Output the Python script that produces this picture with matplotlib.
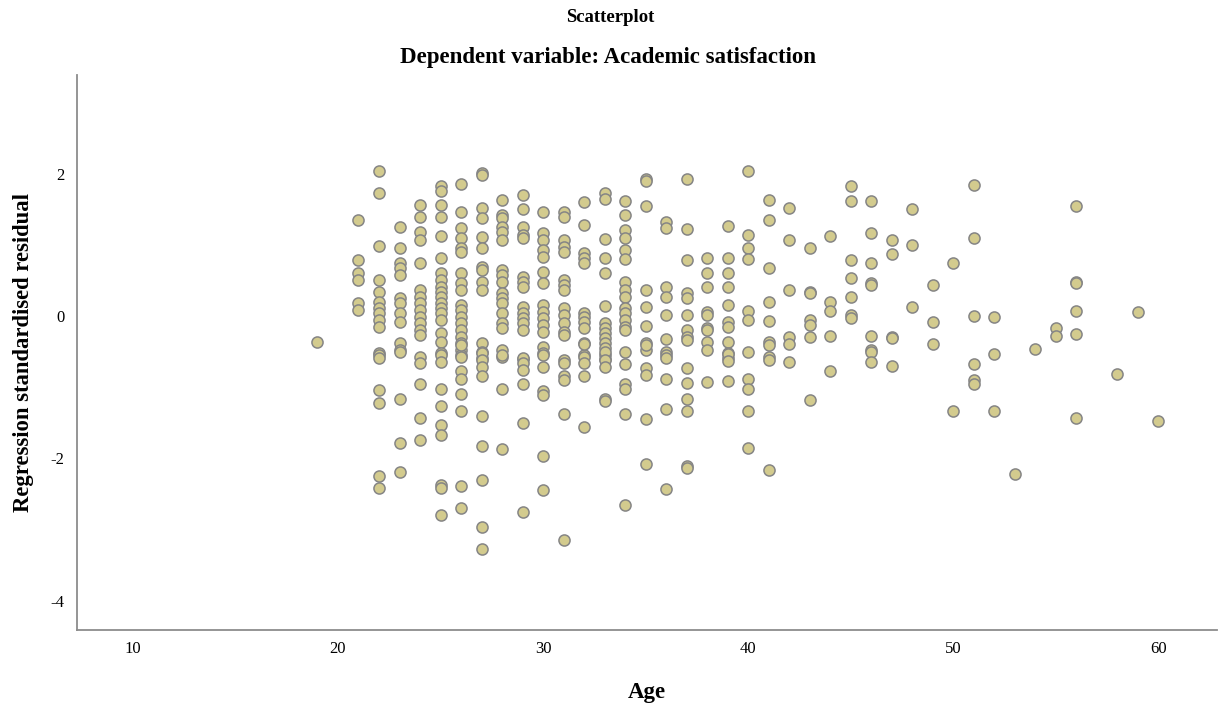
import numpy as np
import matplotlib
matplotlib.use('Agg')
import matplotlib.pyplot as plt

plt.rcParams['axes.unicode_minus'] = False

# ages on the x axis and, for each age, the residuals
ages = [19, 21, 22, 23, 24, 25, 26, 27, 28, 29, 30, 31, 32, 33, 34, 35, 36, 37, 38, 39,
        40, 41, 42, 43, 44, 45, 46, 47, 48, 49, 50, 51, 52, 53, 54, 55, 56, 58, 59, 60]

residuals = [
    [-0.37],
    [1.35, 0.79, 0.60, 0.50, 0.18, 0.08],
    [2.03, 1.72, 0.98, 0.51, 0.34, 0.19, 0.11, 0.04, -0.06, -0.15, -0.52, -0.55, -0.59, -1.04, -1.22, -2.25, -2.42],
    [1.25, 0.95, 0.74, 0.67, 0.58, 0.25, 0.18, 0.04, -0.08, -0.38, -0.48, -0.50, -1.16, -1.79, -2.19],
    [1.56, 1.39, 1.18, 1.07, 0.74, 0.37, 0.27, 0.18, 0.08, -0.01, -0.10, -0.20, -0.27, -0.57, -0.66, -0.95, -1.44, -1.74],
    [1.82, 1.75, 1.56, 1.39, 1.12, 0.82, 0.60, 0.51, 0.41, 0.34, 0.27, 0.18, 0.11, 0.04, -0.06, -0.24, -0.36, -0.52,
     -0.55, -0.64, -1.03, -1.26, -1.53, -1.67, -2.37, -2.42, -2.79],
    [1.86, 1.46, 1.23, 1.09, 0.95, 0.90, 0.60, 0.46, 0.37, 0.15, 0.08, -0.01, -0.10, -0.20, -0.29, -0.38, -0.48, -0.55,
     -0.41, -0.57, -0.78, -0.88, -1.09, -1.34, -2.39, -2.70],
    [2.01, 1.98, 1.51, 1.37, 1.11, 0.95, 0.69, 0.65, 0.48, 0.37, -0.38, -0.50, -0.59, -0.52, -0.62, -0.71, -0.84,
     -1.41, -1.83, -2.31, -2.97, -3.27],
    [1.63, 1.42, 1.37, 1.25, 1.18, 1.07, 0.65, 0.58, 0.47, 0.32, 0.25, 0.18, 0.04, -0.10, -0.17, -0.48, -0.57,
     -0.55, -1.02, -1.87],
    [1.70, 1.50, 1.25, 1.14, 1.09, 0.55, 0.48, 0.41, 0.13, 0.04, -0.03, -0.10, -0.20, -0.61, -0.59, -0.66, -0.76,
     -0.95, -1.50, -2.75],
    [1.46, 1.16, 1.07, 0.93, 0.83, 0.62, 0.46, 0.15, 0.06, -0.03, -0.13, -0.22, -0.43, -0.52, -0.55, -0.71, -1.06,
     -1.11, -1.97, -2.44],
    [1.46, 1.39, 1.07, 0.97, 0.90, 0.51, 0.44, 0.37, 0.11, 0.01, -0.10, -0.22, -0.27, -0.62, -0.66, -0.85, -0.90,
     -1.38, -3.14],
    [1.60, 1.28, 0.88, 0.81, 0.74, 0.04, -0.01, -0.08, -0.17, -0.38, -0.55, -0.39, -0.57, -0.66, -0.84, -1.56],
    [1.72, 1.64, 1.08, 0.82, 0.60, 0.14, -0.10, -0.17, -0.24, -0.31, -0.38, -0.45, -0.55, -0.61, -0.50, -0.62,
     -0.71, -1.16, -1.20],
    [1.61, 1.42, 1.21, 1.09, 0.93, 0.80, 0.48, 0.37, 0.27, 0.11, 0.04, -0.06, -0.15, -0.20, -0.50, -0.67, -0.95,
     -1.03, -1.38, -2.65],
    [1.93, 1.89, 1.54, 0.37, 0.12, -0.14, -0.38, -0.48, -0.41, -0.73, -0.83, -1.45, -2.08],
    [1.32, 1.23, 0.41, 0.27, 0.01, -0.33, -0.50, -0.55, -0.59, -0.89, -1.31, -2.43],
    [1.93, 1.22, 0.79, 0.32, 0.25, 0.01, -0.20, -0.29, -0.34, -0.73, -0.94, -1.17, -1.33, -2.11, -2.14],
    [0.81, 0.61, 0.41, 0.06, 0.01, -0.17, -0.20, -0.36, -0.48, -0.93],
    [1.26, 0.81, 0.60, 0.41, 0.15, -0.09, -0.15, -0.37, -0.52, -0.59, -0.53, -0.63, -0.92],
    [2.03, 1.14, 0.96, 0.80, 0.07, -0.06, -0.50, -0.89, -1.02, -1.34, -1.85],
    [1.63, 1.35, 0.68, 0.19, -0.07, -0.36, -0.41, -0.57, -0.62, -2.16],
    [1.51, 1.07, 0.37, -0.29, -0.39, -0.65],
    [0.96, 0.34, 0.32, -0.06, -0.13, -0.29, -1.18],
    [1.12, 0.20, 0.07, -0.28, -0.77],
    [1.82, 1.61, 0.79, 0.54, 0.27, 0.01, -0.03],
    [1.61, 1.16, 0.74, 0.46, 0.44, -0.28, -0.48, -0.50, -0.64],
    [1.06, 0.87, -0.29, -0.31, -0.70],
    [1.50, 0.99, 0.12],
    [0.44, -0.08, -0.40],
    [0.74, -1.33],
    [1.84, 1.09, 0.00, -0.67, -0.90, -0.95],
    [-0.02, -0.53, -1.33],
    [-2.22],
    [-0.46],
    [-0.17, -0.28],
    [1.54, 0.48, 0.46, 0.07, -0.25, -1.44],
    [-0.81],
    [0.05],
    [-1.47],
]

x_ticks = [10, 20, 30, 40, 50, 60]
y_ticks = [-4, -2, 0, 2]

x = np.concatenate([[a] * len(r) for a, r in zip(ages, residuals)])
y = np.concatenate(residuals)

fig = plt.figure(figsize=(12.21, 7.07), dpi=100)
ax = fig.add_axes([0.063, 0.109, 0.934, 0.785])

ax.scatter(x, y, s=64, c='#d3cb8e', edgecolors='#858585', linewidths=1.1, zorder=3)

ax.set_xlim(7.27, 62.88)
ax.set_ylim(-4.41, 3.385)
ax.set_xticks(x_ticks)
ax.set_yticks(y_ticks)
ax.tick_params(axis='x', length=0, labelsize=12, pad=8)
ax.tick_params(axis='y', length=0, labelsize=12, pad=9)
for lab in ax.get_xticklabels() + ax.get_yticklabels():
    lab.set_family('Liberation Serif')

for side in ['top', 'right']:
    ax.spines[side].set_visible(False)
for side in ['left', 'bottom']:
    ax.spines[side].set_color('#8c8c8c')
    ax.spines[side].set_linewidth(1.3)

ax.set_xlabel('Age', fontsize=16.5, fontweight='bold', family='Liberation Serif', labelpad=18)
ax.set_ylabel('Regression standardised residual', fontsize=16.3, fontweight='bold',
              family='Liberation Serif', labelpad=12)

fig.text(0.5, 1 - 18 / 707, 'Scatterplot', ha='center', va='center',
         fontsize=13.5, fontweight='bold', family='Liberation Serif')
fig.text(0.498, 1 - 58 / 707, 'Dependent variable: Academic satisfaction', ha='center', va='center',
         fontsize=16.5, fontweight='bold', family='Liberation Serif')

fig.savefig('out.png', dpi=100)
